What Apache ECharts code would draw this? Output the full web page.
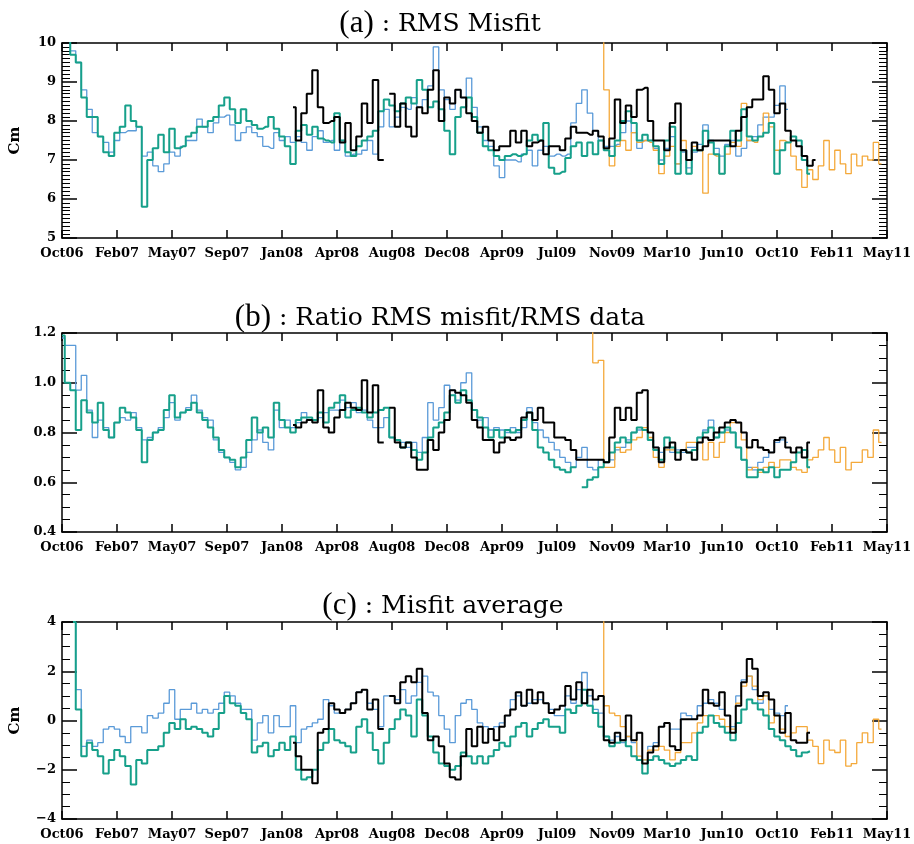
<!DOCTYPE html>
<html>
<head>
<meta charset="utf-8">
<title>RMS misfit statistics</title>
<script src="https://cdn.jsdelivr.net/npm/echarts@6/dist/echarts.min.js"></script>
<style>
html,body{margin:0;padding:0;background:#fff;}
#chart{width:914px;height:844px;}
</style>
</head>
<body>
<div id="chart"></div>
<script>
// tick labels (one per x tick, x measured in tick units)
var xLabels = ['Oct06','Feb07','May07','Sep07','Jan08','Apr08','Aug08','Dec08','Apr09','Jul09','Nov09','Mar10','Jun10','Oct10','Feb11','May11'];
var yLabelsA = ['5','6','7','8','9','10'];
var yLabelsB = ['0.4','0.6','0.8','1.0','1.2'];
var yLabelsC = ['\u22124','\u22122','0','2','4'];
var STEP = 0.1; // sample spacing, in tick units

// (a) RMS misfit
var aTealStart = 0;
var aTeal = [11,10.5,9.7,9.5,8.6,8.1,8.1,7.6,7.2,7.1,
  7.7,7.85,8.4,8.0,7.85,5.8,7.0,7.3,7.65,7.2,
  7.8,7.3,7.35,7.6,7.7,7.85,7.85,8.0,8.1,8.4,
  8.6,8.3,7.95,8.3,8.0,7.9,7.8,7.85,8.1,7.8,
  7.6,7.35,6.9,7.75,7.9,7.65,7.85,7.55,7.5,7.45,
  8.2,7.5,7.2,7.1,7.35,7.5,7.6,7.75,8.25,8.55,
  8.4,8.25,8.45,8.6,8.45,9.05,8.8,8.35,8.5,8.3,
  7.75,7.15,8.1,8.35,8.6,8.1,7.7,7.35,7.25,7.1,
  7.0,7.1,7.15,7.1,7.15,7.5,7.65,7.5,7.95,6.8,
  6.65,6.7,7.05,7.35,7.45,7.1,7.45,7.15,7.5,7.25,
  7.1,7.5,8.0,8.25,7.95,7.5,7.65,7.5,7.35,6.9,
  7.5,7.85,6.65,7.25,6.65,7.25,7.25,7.75,7.45,7.15,
  6.65,7.35,7.75,7.5,8.3,7.6,7.5,7.6,7.7,7.95,
  6.65,7.25,7.45,7.6,7.5,7.0,6.65];
var aBlueStart = 0;
var aBlue = [11,10.5,9.8,9.5,8.8,8.3,7.7,7.6,7.45,7.2,
  7.5,7.7,7.75,7.75,7.85,7.1,7.2,6.85,6.7,6.9,
  7.2,7.1,7.35,7.5,7.5,8.05,7.85,7.7,7.95,8.1,
  8.15,7.9,7.5,7.7,7.85,7.7,7.6,7.35,7.3,7.7,
  7.5,7.6,7.45,7.6,7.45,7.25,7.6,7.75,7.45,7.5,
  7.25,7.5,7.1,7.15,7.15,7.25,7.5,7.15,7.85,8.3,
  7.85,8.1,8.35,8.3,8.6,8.35,8.55,8.9,9.9,8.8,
  8.55,8.3,8.8,8.6,9.1,8.35,7.85,7.5,7.35,6.85,
  6.55,7.0,7.0,6.95,7.15,7.25,6.85,7.25,7.35,7.1,
  7.15,7.1,7.15,7.95,8.45,8.8,8.2,7.75,7.5,7.35,
  7.35,7.4,7.7,8.0,7.7,7.3,7.5,7.5,7.3,7.0,
  7.3,7.6,6.9,7.2,6.8,7.2,7.4,7.9,7.5,7.3,
  7.1,7.4,7.5,7.1,7.3,7.5,7.6,7.9,8.1,8.1,
  8.4,8.9,8.3];
var aBlackStart = 4.2;
var aBlack = [8.35,7.5,8.2,8.7,9.3,8.35,7.95,8.0,
  8.1,7.45,7.95,7.25,7.6,8.45,7.95,9.05,7.0,null,
  8.7,7.85,8.45,7.85,7.6,8.35,8.2,8.8,9.3,8.0,
  8.6,8.45,8.8,8.6,8.2,8.0,7.7,7.85,7.5,7.25,
  7.35,7.35,7.75,7.45,7.75,7.35,7.45,7.5,7.15,7.35,
  7.35,7.25,7.55,7.85,7.7,7.7,7.65,7.75,7.6,7.3,
  7.55,8.55,7.95,8.4,8.1,8.8,8.85,8.0,7.5,7.5,
  7.25,7.95,8.45,7.25,7.0,7.45,7.25,7.35,7.5,7.5,
  7.5,7.5,7.35,7.75,8.1,8.35,8.55,8.55,9.15,8.8,
  8.2,8.45,7.75,7.5,7.35,7.1,6.85,7.0];
var aOrangeStart = 9.8;
var aOrange = [12,8.8,
  6.85,7.35,7.5,7.25,7.7,7.45,7.5,7.45,7.25,6.65,
  7.1,7.35,6.9,7.5,7.0,7.35,7.25,6.15,7.15,7.1,
  6.65,7.15,7.45,7.35,8.45,7.5,7.45,7.6,8.2,7.85,
  7.25,7.5,7.45,7.1,6.75,6.3,6.75,6.5,6.85,7.5,
  6.75,7.25,6.9,6.65,7.15,6.85,7.1,7.0,7.45,6.9];

// (b) ratio RMS misfit / RMS data
var bTealStart = 0;
var bTeal = [1.19,1.0,0.97,0.81,0.93,0.88,0.84,0.92,0.81,0.78,
  0.84,0.9,0.88,0.86,0.81,0.68,0.77,0.8,0.81,0.89,
  0.95,0.86,0.88,0.89,0.92,0.88,0.85,0.82,0.78,0.73,
  0.7,0.69,0.66,0.7,0.77,0.86,0.8,0.82,0.78,0.92,
  0.85,0.82,0.8,0.85,0.86,0.86,0.85,0.88,0.84,0.9,
  0.92,0.95,0.86,0.89,0.9,0.88,0.86,0.88,0.89,0.9,
  0.78,0.77,0.74,0.76,0.73,0.69,0.72,0.78,0.82,0.84,
  0.88,0.95,0.92,0.97,0.93,0.89,0.86,0.82,0.78,0.81,
  0.78,0.81,0.8,0.81,0.85,0.88,0.81,0.74,0.72,0.69,
  0.66,0.65,0.64,0.66,null,0.58,0.61,0.62,0.66,0.68,
  0.72,0.76,0.78,0.76,0.8,0.82,0.81,0.77,0.73,0.69,
  0.78,0.74,0.72,0.73,0.72,0.73,0.78,0.8,0.82,0.78,
  0.8,0.82,0.8,0.74,0.69,0.62,0.62,0.65,0.64,0.66,
  0.62,0.65,0.65,0.68,0.72,0.73,0.66];
var bBlueStart = 0;
var bBlue = [1.18,1.15,1.15,0.97,1.03,0.89,0.78,0.85,0.82,0.78,
  0.84,0.86,0.85,0.88,0.82,0.77,0.78,0.8,0.82,0.86,
  0.92,0.85,0.88,0.9,0.95,0.89,0.86,0.85,0.77,0.72,
  0.7,0.68,0.65,0.66,0.72,0.77,0.81,0.76,0.73,0.89,
  0.82,0.85,0.82,0.84,0.88,0.85,0.85,0.86,0.88,0.89,
  0.89,0.93,0.9,0.92,0.88,0.89,0.85,0.82,0.82,0.86,
  0.78,0.77,0.76,0.74,0.76,0.72,0.78,0.92,0.85,0.9,
  0.99,0.97,0.93,1.0,1.04,0.89,0.85,0.86,0.81,0.82,
  0.81,0.8,0.82,0.8,0.82,0.9,0.84,0.81,0.78,0.76,
  0.73,0.7,0.68,0.66,0.7,0.74,0.66,0.65,0.69,0.68,
  0.69,0.73,0.74,0.77,0.8,0.81,0.81,0.77,0.74,0.72,
  0.74,0.72,0.73,0.72,0.74,0.74,0.78,0.81,0.85,0.78,
  0.8,0.81,0.8,0.74,0.69,0.66,0.65,0.68,0.7,0.72,
  0.76,0.77,0.76];
var bBlackStart = 4.2;
var bBlack = [0.83,0.82,0.84,0.85,0.84,0.97,0.82,0.8,
  0.86,0.89,0.92,0.9,0.89,1.01,0.88,0.99,0.76,null,
  0.9,0.76,0.74,0.76,0.7,0.65,0.65,0.77,0.73,0.8,
  0.85,0.97,0.96,0.95,0.92,0.85,0.82,0.77,0.77,0.72,
  0.76,0.78,0.77,0.78,0.86,0.88,0.85,0.9,0.84,0.84,
  0.78,0.78,0.77,0.73,0.69,0.69,0.69,0.69,0.69,0.68,
  0.78,0.9,0.85,0.9,0.85,0.96,0.97,0.8,0.74,0.68,
  0.74,0.76,0.69,0.73,0.72,0.69,0.76,0.78,0.77,0.8,
  0.82,0.84,0.85,0.84,0.8,0.74,0.77,0.74,0.73,0.72,
  0.77,0.78,0.74,0.72,0.74,0.7,0.76];
var bOrangeStart = 9.6;
var bOrange = [1.3,1.08,1.09,0.66,
  0.66,0.74,0.72,0.73,0.77,0.78,0.82,0.78,0.7,0.66,
  0.73,0.73,0.72,0.73,0.76,0.76,0.76,0.69,0.76,0.7,
  0.76,0.8,0.84,0.84,0.77,0.65,0.66,0.64,0.66,0.68,
  0.66,0.69,0.69,0.66,0.65,0.64,0.69,0.7,0.73,0.78,
  0.73,0.68,0.74,0.65,0.68,0.68,0.73,0.7,0.81,0.76];

// (c) misfit average
var cTealStart = 0.2;
var cTeal = [4.0,0.45,-1.45,-0.9,-1.2,-1.45,-2.15,-1.6,
  -1.2,-1.45,-1.85,-2.6,-1.6,-1.75,-1.2,-1.2,-1.05,-0.5,
  -0.1,-0.35,0.05,-0.35,-0.25,-0.35,-0.5,-0.65,-0.35,0.3,
  1.0,0.7,0.6,0.3,0.05,-1.3,-1.05,-0.9,-1.45,-1.2,
  -0.9,-1.2,-0.65,-2.0,-2.4,-2.3,-2.0,-1.2,-0.9,-0.35,
  -0.8,-0.9,-1.05,-1.3,-0.25,0.05,-0.5,-1.2,-1.75,-0.9,
  -0.35,0.05,0.45,0.2,-0.65,0.85,0.2,-0.65,-1.3,-1.75,
  -1.85,-2.0,-1.85,-1.3,-1.45,-1.75,-1.45,-1.75,-1.45,-1.2,
  -0.9,-1.05,-0.65,-0.25,-0.1,-0.65,-0.35,-0.1,0.05,-0.25,
  -0.25,-0.5,0.45,0.3,0.6,1.25,0.6,0.3,-0.25,-0.65,
  -1.05,-0.9,-0.8,-1.05,-1.45,-1.6,-2.15,-1.6,-1.45,-1.6,
  -1.75,-1.85,-1.75,-1.6,-1.45,-1.6,-0.5,-0.25,0.2,-0.1,
  -0.25,-0.5,-0.8,-0.1,0.45,0.85,0.7,0.45,0.2,-0.35,
  -0.65,-0.8,-1.05,-1.2,-1.45,-1.3,-1.25];
var cBlueStart = 0.2;
var cBlue = [4.0,1.25,-1.05,-0.8,-1.05,-0.9,-0.35,-0.25,
  -0.35,-0.65,-0.9,-0.25,-0.25,-0.5,0.2,0.1,0.3,0.7,
  1.25,0.05,0.45,0.45,0.7,0.3,0.45,0.3,0.45,0.7,
  1.15,1.0,0.7,0.45,0.45,-0.8,-0.1,0.2,-0.5,0.2,
  -0.25,-0.25,0.6,-0.9,-0.35,-0.25,-0.1,0.05,0.85,0.6,
  0.3,0.3,0.45,0.7,1.15,1.25,0.7,0.45,-0.25,1.0,
  1.0,0.85,1.25,0.7,1.0,1.55,1.8,1.15,1.0,0.2,
  -0.35,-0.9,0.2,0.7,0.85,0.45,-0.1,-0.25,-0.35,-0.25,
  -0.1,0.2,0.85,1.0,0.6,0.7,0.85,0.85,0.7,0.45,
  0.2,0.2,1.0,0.7,1.25,1.95,1.0,0.45,0.3,-0.65,
  -0.8,-0.65,-0.9,-0.65,-0.9,-1.6,-1.6,-1.05,-0.9,-0.25,
  -0.1,-0.35,-0.35,0.3,0.2,0.05,0.6,0.7,0.85,0.7,
  0.45,0.2,-0.25,1.0,1.65,1.8,1.25,0.7,1.0,0.45,
  0.3,0.2,0.6];
var cBlackStart = 4.2;
var cBlack = [-0.9,-1.45,-2.0,-2.0,-2.55,-0.5,-0.35,0.7,
  0.45,0.3,0.45,0.7,1.15,1.25,0.45,0.85,-0.35,null,
  1.0,0.7,1.55,1.8,1.55,2.1,0.3,-0.8,-0.65,-1.05,
  -1.75,-2.3,-2.4,-1.45,-0.35,-1.05,-0.25,-0.9,-0.35,-0.8,
  -0.25,0.2,0.45,1.15,0.6,1.25,0.7,1.15,0.7,0.3,
  0.45,0.6,1.4,0.85,1.55,0.7,1.25,0.85,1.0,-0.8,
  -0.9,-0.5,-0.8,0.2,-0.8,-0.5,-1.75,-1.3,-1.05,-0.25,
  -0.1,-1.05,-1.2,0.05,0.05,0.05,0.2,1.25,0.7,0.6,
  1.15,0.2,-0.5,0.6,1.55,2.5,2.1,1.0,1.15,0.85,
  0.2,-0.5,0.3,-0.8,-0.9,-0.9,-0.5];
var cOrangeStart = 9.8;
var cOrange = [5,0.6,
  0.3,0.2,-0.25,-0.65,-0.8,-1.45,-1.6,-1.2,-1.2,-1.05,
  -1.2,-1.6,-1.3,-0.9,-0.9,-0.5,-0.1,0.2,0.2,0.2,
  0.05,-0.25,-0.35,0.7,1.4,1.8,1.4,0.85,1.0,-0.1,
  0.2,-0.35,-0.65,-0.5,-0.25,-0.25,-0.8,-1.05,-1.75,-0.8,
  -1.2,-1.3,-0.8,-1.85,-1.75,-0.9,-0.5,-0.9,0.05,-0.35];

var colTeal = '#16a08a', colBlue = '#5a9ad8', colBlack = '#000000', colOrange = '#f4a93a';
var fontTick = 'DejaVu Serif';

function pts(start, vals) {
	return vals.map(function(v, i){
		return [Math.round((start + i * STEP) * 100) / 100, v];
	});
}

var panels = [
	{ top:43, height:195, min:5, max:10, interval:1, minor:10, labels:yLabelsA, name:'Cm',
	  sets:[[aBlueStart,aBlue,colBlue,1.3],[aOrangeStart,aOrange,colOrange,1.3],[aTealStart,aTeal,colTeal,2],[aBlackStart,aBlack,colBlack,2]] },
	{ top:333, height:199, min:0.4, max:1.2, interval:0.2, minor:4, labels:yLabelsB, name:'',
	  sets:[[bBlueStart,bBlue,colBlue,1.3],[bOrangeStart,bOrange,colOrange,1.3],[bTealStart,bTeal,colTeal,2],[bBlackStart,bBlack,colBlack,2]] },
	{ top:622, height:197, min:-4, max:4, interval:2, minor:4, labels:yLabelsC, name:'Cm',
	  sets:[[cBlueStart,cBlue,colBlue,1.3],[cOrangeStart,cOrange,colOrange,1.3],[cTealStart,cTeal,colTeal,2],[cBlackStart,cBlack,colBlack,2]] }
];

var grids = [], xAxes = [], yAxes = [], series = [];
var lineAxis = {show:true, onZero:false, lineStyle:{color:'#000', width:1.5}};
panels.forEach(function(p, i){
	grids.push({left:62, right:27, top:p.top, height:p.height, containLabel:false, outerBoundsMode:'none'});
	// bottom x axis with labels, top x axis with ticks only
	xAxes.push({gridIndex:i, type:'value', min:0, max:15, interval:1, position:'bottom',
		axisLine:lineAxis, axisTick:{inside:true, length:8, lineStyle:{color:'#000', width:1.5}},
		splitLine:{show:false},
		axisLabel:{margin:9, color:'#000', fontFamily:fontTick, fontWeight:'bold', fontSize:13,
			formatter:function(v){ return xLabels[Math.round(v)]; }}});
	xAxes.push({gridIndex:i, type:'value', min:0, max:15, interval:1, position:'top',
		axisLine:lineAxis, axisTick:{inside:true, length:8, lineStyle:{color:'#000', width:1.5}},
		splitLine:{show:false}, axisLabel:{show:false}});
	// left y axis with labels, right y axis mirrors the ticks
	yAxes.push({gridIndex:i, type:'value', min:p.min, max:p.max, interval:p.interval, position:'left',
		name:p.name, nameLocation:'middle', nameGap:39, nameRotate:90,
		nameTextStyle:{fontFamily:fontTick, fontWeight:'bold', fontSize:15, color:'#000'},
		axisLine:lineAxis, axisTick:{inside:true, length:15, lineStyle:{color:'#000', width:1.5}},
		minorTick:{show:true, splitNumber:p.minor, length:8, lineStyle:{color:'#000', width:1}},
		splitLine:{show:false}, minorSplitLine:{show:false},
		axisLabel:{margin:6, color:'#000', fontFamily:fontTick, fontWeight:'bold', fontSize:13,
			formatter:(function(pp){ return function(v){ return pp.labels[Math.round((v - pp.min) / pp.interval)]; }; })(p)}});
	yAxes.push({gridIndex:i, type:'value', min:p.min, max:p.max, interval:p.interval, position:'right',
		axisLine:lineAxis, axisTick:{inside:true, length:15, lineStyle:{color:'#000', width:1.5}},
		minorTick:{show:true, splitNumber:p.minor, length:8, lineStyle:{color:'#000', width:1}},
		splitLine:{show:false}, minorSplitLine:{show:false}, axisLabel:{show:false}});
	p.sets.forEach(function(s){
		series.push({type:'line', xAxisIndex:i*2, yAxisIndex:i*2, step:'middle', showSymbol:false,
			clip:true, silent:true, data:pts(s[0], s[1]),
			lineStyle:{color:s[2], width:s[3]}, itemStyle:{color:s[2]}});
	});
});

function titleText(x, y, tag, rest){
	return {type:'text', x:x, y:y, style:{text:'{p|' + tag + '}{t|' + rest + '}', align:'center', verticalAlign:'middle',
		rich:{p:{fontFamily:'Liberation Serif', fontSize:31, fill:'#000'}, t:{fontFamily:'DejaVu Serif', fontSize:25, fill:'#000'}}}};
}

var chart = echarts.init(document.getElementById('chart'));
chart.setOption({
	backgroundColor:'#fff',
	animation:false,
	grid:grids,
	xAxis:xAxes,
	yAxis:yAxes,
	series:series,
	graphic:[
		titleText(440, 24, '(a)', ' : RMS Misfit'),
		titleText(440, 318, '(b)', ' : Ratio RMS misfit/RMS data'),
		titleText(443, 606, '(c)', ' : Misfit average')
	]
});
</script>
</body>
</html>
